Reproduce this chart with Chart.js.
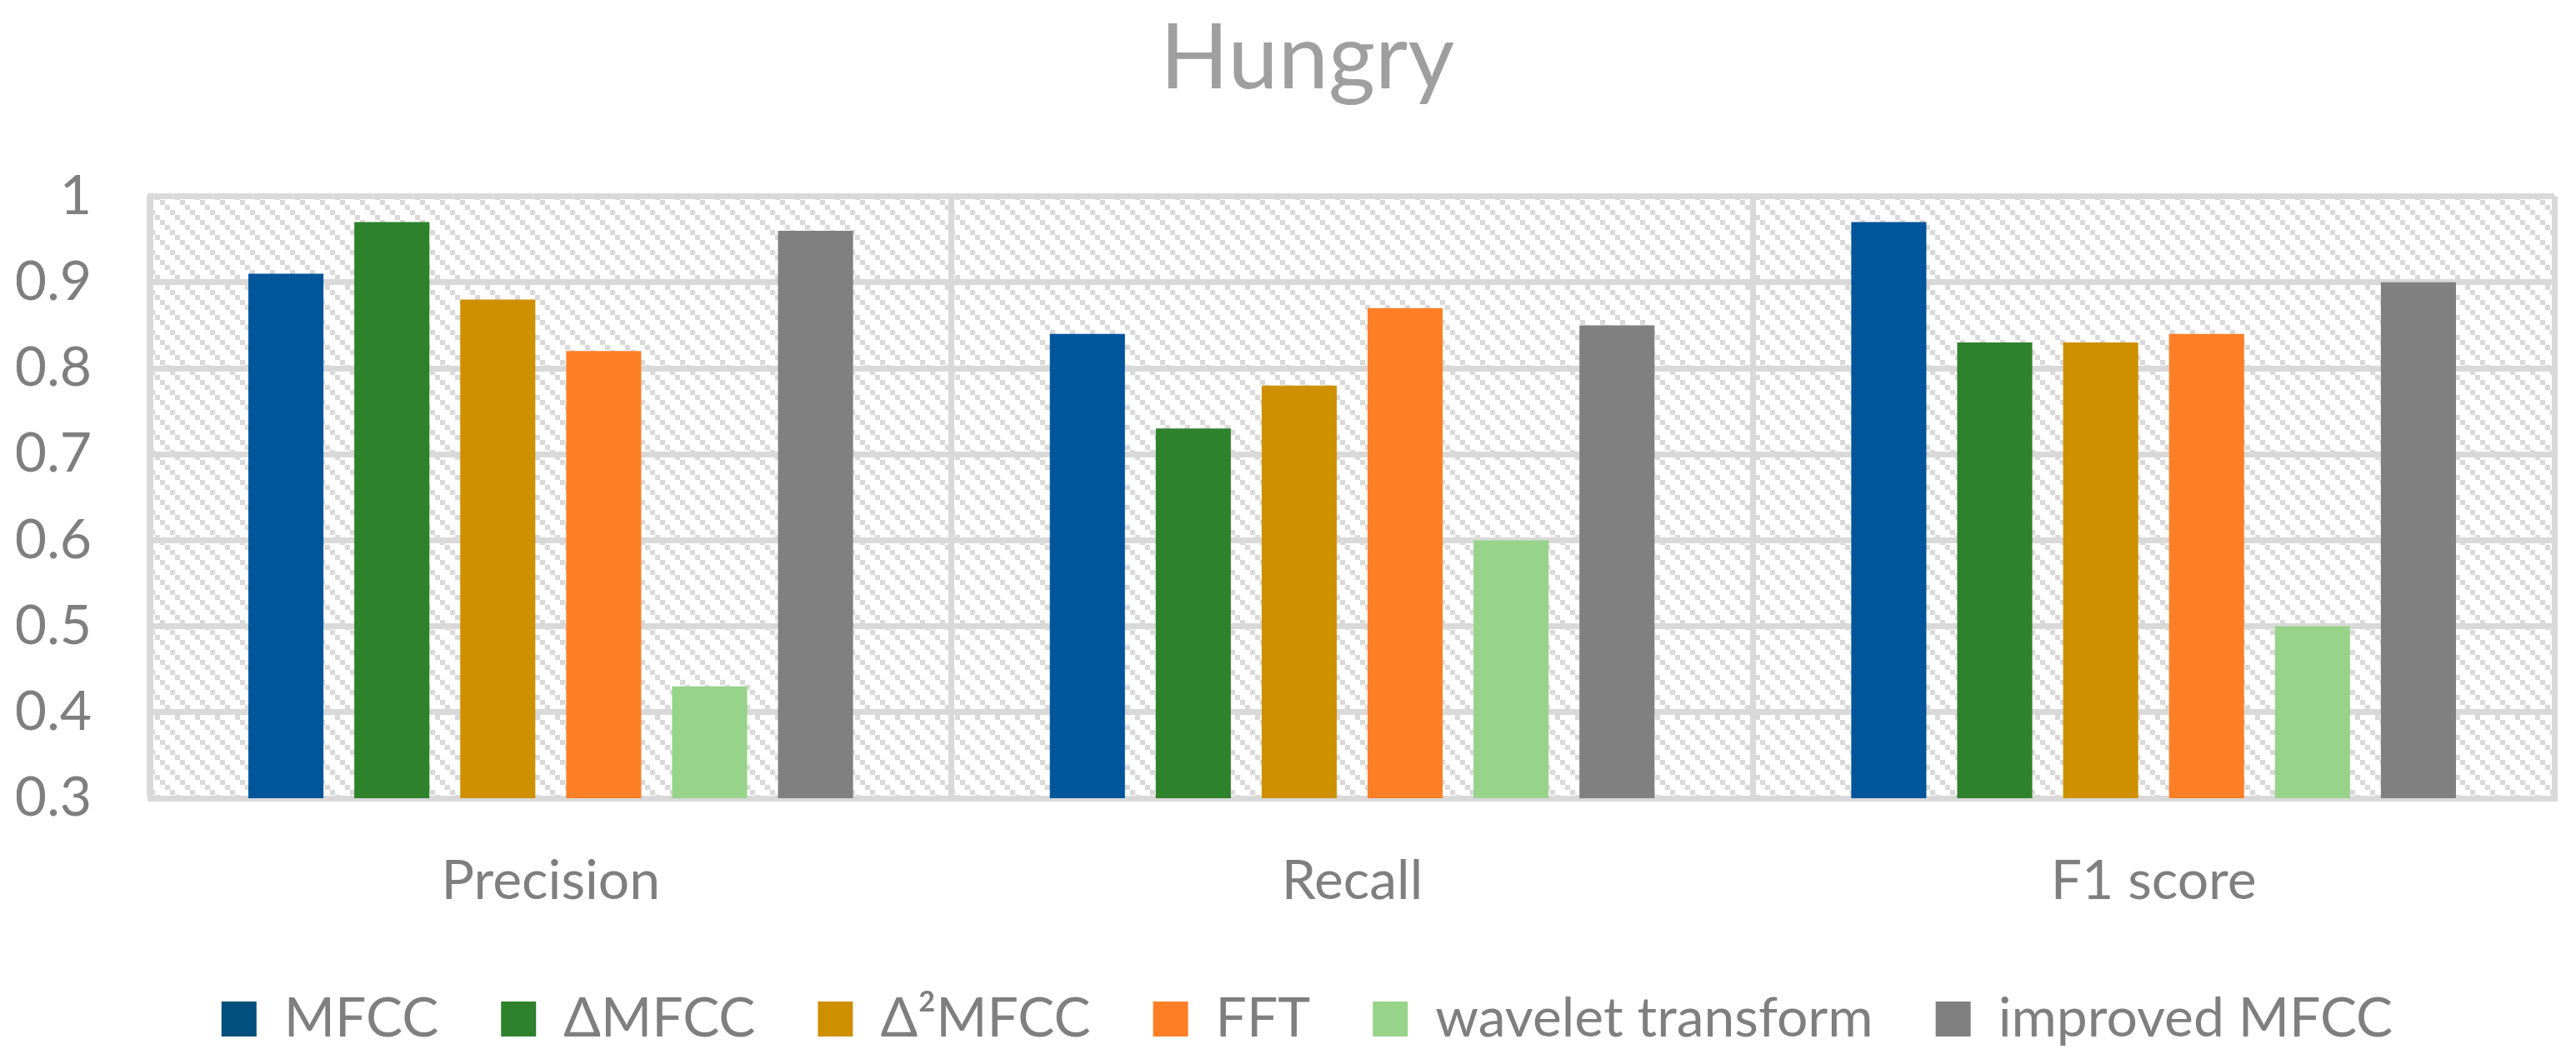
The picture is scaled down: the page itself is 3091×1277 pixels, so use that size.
<!DOCTYPE html>
<html lang="en">
<head>
    <meta charset="UTF-8">
    <title>Hungry</title>
    <style>
        html, body {
            margin: 0;
            padding: 0;
            background: #ffffff;
        }
        #wrap {
            width: 3091px;
            height: 1277px;
        }
    </style>
</head>
<body>
    <div id="wrap">
        <canvas id="hungryChart" width="3091" height="1277"></canvas>
    </div>

    <script src="https://cdn.jsdelivr.net/npm/chart.js"></script>
    <script>
        // chart data
        const categories = ['Precision', 'Recall', 'F1 score'];
        const seriesNames = ['MFCC', 'ΔMFCC', 'Δ²MFCC', 'FFT', 'wavelet transform', 'improved MFCC'];
        const mfcc       = [0.91, 0.84, 0.97];
        const deltaMfcc  = [0.97, 0.73, 0.83];
        const delta2Mfcc = [0.88, 0.78, 0.83];
        const fft        = [0.82, 0.87, 0.84];
        const wavelet    = [0.43, 0.60, 0.50];
        const improved   = [0.96, 0.85, 0.90];
        const yTicks = [0.3, 0.4, 0.5, 0.6, 0.7, 0.8, 0.9, 1];

        const barColors = ['#00559B', '#2E822B', '#CF9000', '#FF7F27', '#98D38A', '#808080'];
        const legendColors = ['#014F7C', '#2E822B', '#CF9000', '#FF7F27', '#98D38A', '#808080'];
        const gridColor = '#D9D9D9';
        const textColor = '#7F7F7F';
        const fontFamily = 'Lato, "Open Sans", sans-serif';

        // light diagonal hatch behind the plot, like the Excel pattern fill
        function makeHatch() {
            const c = document.createElement('canvas');
            c.width = 24;
            c.height = 24;
            const g = c.getContext('2d');
            g.fillStyle = gridColor;
            for (let i = 0; i < 4; i++) {
                g.fillRect(i * 6, i * 6, 6, 6);
            }
            return c;
        }

        const hatchPlugin = {
            id: 'hatchBackground',
            afterLayout(chart) {
                // title and legend sit a bit right of the canvas centre in the original
                [chart.titleBlock, chart.legend].forEach(box => {
                    if (box) {
                        box.left += 26;
                        box.right += 26;
                    }
                });
            },
            beforeDraw(chart) {
                const ctx = chart.ctx;
                const a = chart.chartArea;
                ctx.save();
                ctx.fillStyle = ctx.createPattern(makeHatch(), 'repeat');
                ctx.fillRect(a.left, a.top, a.right - a.left, a.bottom - a.top);
                ctx.restore();
            }
        };

        const allSeries = [mfcc, deltaMfcc, delta2Mfcc, fft, wavelet, improved];

        const chart = new Chart(document.getElementById('hungryChart'), {
            type: 'bar',
            data: {
                labels: categories,
                datasets: allSeries.map((values, i) => ({
                    label: seriesNames[i],
                    data: values,
                    backgroundColor: barColors[i],
                    borderWidth: 0,
                    categoryPercentage: 0.793,
                    barPercentage: 0.709
                }))
            },
            options: {
                responsive: false,
                animation: false,
                devicePixelRatio: 1,
                layout: {
                    padding: { left: 20, right: 26, top: 0, bottom: 11 }
                },
                plugins: {
                    title: {
                        display: true,
                        text: 'Hungry',
                        color: '#9F9F9F',
                        font: { family: fontFamily, size: 108, weight: 'normal' },
                        padding: { top: 6, bottom: 100 }
                    },
                    legend: {
                        position: 'bottom',
                        labels: {
                            color: textColor,
                            font: { family: fontFamily, size: 66 },
                            boxWidth: 42,
                            boxHeight: 42,
                            padding: 75,
                            generateLabels(ch) {
                                const items = Chart.defaults.plugins.legend.labels.generateLabels(ch);
                                items.forEach((it, i) => {
                                    it.fillStyle = legendColors[i];
                                    it.strokeStyle = legendColors[i];
                                    it.lineWidth = 0;
                                });
                                return items;
                            }
                        }
                    },
                    tooltip: { enabled: false }
                },
                scales: {
                    x: {
                        afterFit(scale) {
                            scale.height = 157;
                        },
                        grid: {
                            color: gridColor,
                            lineWidth: 7,
                            offset: true,
                            drawTicks: false
                        },
                        border: { color: gridColor, width: 7 },
                        ticks: {
                            color: textColor,
                            font: { family: fontFamily, size: 66 },
                            padding: 60
                        }
                    },
                    y: {
                        min: 0.3,
                        max: 1,
                        afterBuildTicks(scale) {
                            scale.ticks = yTicks.map(v => ({ value: v }));
                        },
                        afterFit(scale) {
                            scale.width = 160;
                        },
                        grid: {
                            color: gridColor,
                            lineWidth: 7,
                            drawTicks: false
                        },
                        border: { color: gridColor, width: 7 },
                        ticks: {
                            color: textColor,
                            font: { family: fontFamily, size: 66 },
                            padding: 70,
                            callback: v => String(+Number(v).toFixed(1))
                        }
                    }
                }
            },
            plugins: [hatchPlugin]
        });
    </script>
</body>
</html>
